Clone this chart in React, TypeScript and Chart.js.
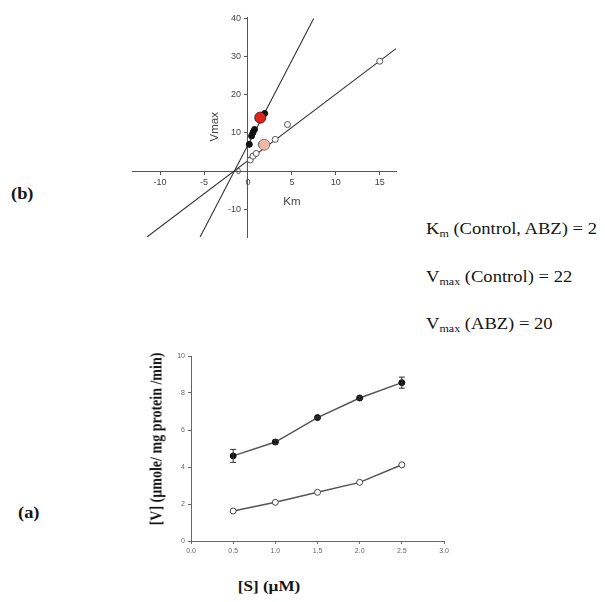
import React, { useEffect, useRef } from "react";
import { Chart, registerables } from "chart.js";

Chart.register(...registerables);

// ---------- Panel (b): Km vs Vmax plot ----------
const kmTicks = [-10, -5, 0, 5, 10, 15];
const vmaxTicks = [-10, 0, 10, 20, 30, 40];
const controlKm = [0.15, 0.41, 0.57, 0.75, 1.9];
const controlVmax = [7.0, 9.2, 10.1, 10.9, 15.1];
const controlMeanKm = [1.4];
const controlMeanVmax = [14.0];
const abzKm = [0.26, 0.57, 0.94, 1.5, 3.1, 4.5, 15];
const abzVmax = [2.9, 3.9, 4.6, 7.0, 8.3, 12.2, 28.8];
const abzMeanKm = [1.85];
const abzMeanVmax = [6.9];
const controlLineKm = [-5.45, 7.48];
const controlLineVmax = [-17.3, 40];
const abzLineKm = [-11.5, 16.85];
const abzLineVmax = [-17.3, 32.1];

// ---------- Panel (a): V vs [S] ----------
const substrate = [0.5, 1.0, 1.5, 2.0, 2.5];
const controlV = [4.6, 5.35, 6.67, 7.73, 8.56];
const controlErr = [0.35, 0.1, 0.05, 0.07, 0.3];
const abzV = [1.62, 2.09, 2.63, 3.17, 4.12];
const sTicks = [0, 0.5, 1.0, 1.5, 2.0, 2.5, 3.0];
const vTicks = [0, 2, 4, 6, 8, 10];

const pts = (xs: number[], ys: number[]) => xs.map((x, i) => ({ x, y: ys[i] }));

const SANS = '"Liberation Sans", Arial, sans-serif';
const SERIF = '"Liberation Serif", "Times New Roman", serif';

const zeroPad = (s: any) => {
  s.paddingLeft = 0;
  s.paddingRight = 0;
  s.paddingTop = 0;
  s.paddingBottom = 0;
};

// axis titles and y tick labels of the crossing-axes plot
const topTitles = {
  id: "topTitles",
  afterDraw(chart: any) {
    const { ctx, scales } = chart;
    const x = scales.x;
    const y = scales.y;
    const axisX = x.getPixelForValue(0);
    ctx.save();
    ctx.fillStyle = "#444";
    ctx.font = `9px ${SANS}`;
    ctx.textAlign = "right";
    ctx.textBaseline = "middle";
    vmaxTicks.forEach((v) => {
      ctx.fillText(String(v), axisX - 7, y.getPixelForValue(v));
    });
    ctx.font = `11.5px ${SANS}`;
    ctx.textAlign = "center";
    ctx.fillText("Km", x.getPixelForValue(5.0), y.getPixelForValue(-8.05));
    ctx.translate(x.getPixelForValue(-3.76), y.getPixelForValue(11.6));
    ctx.rotate(-Math.PI / 2);
    ctx.fillText("Vmax", 0, 0);
    ctx.restore();
  },
};

const errorBars = {
  id: "errorBars",
  afterDatasetsDraw(chart: any) {
    const { ctx, scales } = chart;
    const x = scales.x;
    const y = scales.y;
    ctx.save();
    ctx.strokeStyle = "#333";
    ctx.lineWidth = 1;
    substrate.forEach((s, i) => {
      const px = x.getPixelForValue(s);
      const t = y.getPixelForValue(controlV[i] + controlErr[i]);
      const b = y.getPixelForValue(controlV[i] - controlErr[i]);
      ctx.beginPath();
      ctx.moveTo(px, t);
      ctx.lineTo(px, b);
      ctx.moveTo(px - 3, t);
      ctx.lineTo(px + 3, t);
      ctx.moveTo(px - 3, b);
      ctx.lineTo(px + 3, b);
      ctx.stroke();
    });
    ctx.restore();
  },
};

function TopChart() {
  const ref = useRef<HTMLCanvasElement>(null);
  useEffect(() => {
    const chart = new Chart(ref.current as HTMLCanvasElement, {
      type: "scatter",
      data: {
        datasets: [
          {
            data: pts(controlMeanKm, controlMeanVmax),
            pointRadius: 5.5,
            backgroundColor: "#e02418",
            borderColor: "#5a1010",
            borderWidth: 1,
            order: 0,
          },
          {
            data: pts(abzMeanKm, abzMeanVmax),
            pointRadius: 5.5,
            backgroundColor: "#f2b9a8",
            borderColor: "#777",
            borderWidth: 1,
            order: 0,
          },
          {
            data: pts(controlKm, controlVmax),
            pointRadius: 3,
            backgroundColor: "#111",
            borderColor: "#111",
            borderWidth: 1,
            order: 1,
          },
          {
            data: pts(abzKm, abzVmax),
            pointRadius: 3,
            backgroundColor: "#fff",
            borderColor: "#555",
            borderWidth: 1,
            order: 1,
          },
          {
            data: pts(controlLineKm, controlLineVmax),
            showLine: true,
            pointRadius: 0,
            borderColor: "#333",
            borderWidth: 1.1,
            order: 5,
          },
          {
            data: pts(abzLineKm, abzLineVmax),
            showLine: true,
            pointRadius: 0,
            borderColor: "#333",
            borderWidth: 1.1,
            order: 5,
          },
        ],
      },
      options: {
        animation: false,
        responsive: false,
        devicePixelRatio: 1,
        layout: { padding: { left: 20, top: 17, right: 20, bottom: 13 }, autoPadding: false },
        plugins: { legend: { display: false }, tooltip: { enabled: false } },
        scales: {
          x: {
            type: "linear",
            min: -13.2,
            max: 16.85,
            position: { y: 0 } as any,
            afterBuildTicks: (s: any) => {
              s.ticks = kmTicks.map((v) => ({ value: v }));
            },
            afterFit: zeroPad,
            grid: { drawOnChartArea: false, drawTicks: true, tickLength: 3, color: "#555" },
            border: { display: true, color: "#555", width: 1 },
            ticks: {
              font: { family: SANS, size: 9 },
              color: "#444",
              padding: 3,
              maxRotation: 0,
              autoSkip: false,
            },
          },
          y: {
            type: "linear",
            min: -17.3,
            max: 40.4,
            position: { x: 0 } as any,
            afterBuildTicks: (s: any) => {
              s.ticks = vmaxTicks.map((v) => ({ value: v }));
            },
            afterFit: zeroPad,
            grid: { drawOnChartArea: false, drawTicks: true, tickLength: 3, color: "#555" },
            border: { display: true, color: "#555", width: 1 },
            ticks: { display: false },
          },
        },
      },
      plugins: [topTitles],
    });
    return () => chart.destroy();
  }, []);
  return (
    <canvas
      ref={ref}
      width={304}
      height={250}
      style={{ position: "absolute", left: 112, top: 0, width: 304, height: 250 }}
    />
  );
}

function BottomChart() {
  const ref = useRef<HTMLCanvasElement>(null);
  useEffect(() => {
    const chart = new Chart(ref.current as HTMLCanvasElement, {
      type: "line",
      data: {
        datasets: [
          {
            data: pts(substrate, controlV),
            borderColor: "#555",
            borderWidth: 1.5,
            pointRadius: 3,
            pointBackgroundColor: "#111",
            pointBorderColor: "#111",
            pointBorderWidth: 1,
          },
          {
            data: pts(substrate, abzV),
            borderColor: "#555",
            borderWidth: 1.5,
            pointRadius: 3,
            pointBackgroundColor: "#fff",
            pointBorderColor: "#444",
            pointBorderWidth: 1,
          },
        ],
      },
      options: {
        animation: false,
        responsive: false,
        devicePixelRatio: 1,
        layout: { padding: { left: 0, top: 16, right: 26, bottom: 0 }, autoPadding: false },
        plugins: { legend: { display: false }, tooltip: { enabled: false } },
        scales: {
          x: {
            type: "linear",
            min: 0,
            max: 3,
            position: "bottom",
            afterBuildTicks: (s: any) => {
              s.ticks = sTicks.map((v) => ({ value: v }));
            },
            afterFit: (s: any) => {
              s.height = 30;
            },
            grid: { drawOnChartArea: false, drawTicks: true, tickLength: 3, color: "#666" },
            border: { display: true, color: "#666", width: 1 },
            ticks: {
              font: { family: SANS, size: 7 },
              color: "#666",
              padding: 3,
              maxRotation: 0,
              autoSkip: false,
              callback: (v: any) => Number(v).toFixed(1),
            },
          },
          y: {
            type: "linear",
            min: 0,
            max: 10,
            position: "left",
            afterBuildTicks: (s: any) => {
              s.ticks = vTicks.map((v) => ({ value: v }));
            },
            afterFit: (s: any) => {
              s.width = 51;
            },
            grid: { drawOnChartArea: false, drawTicks: true, tickLength: 3, color: "#666" },
            border: { display: true, color: "#666", width: 1 },
            ticks: {
              font: { family: SANS, size: 7 },
              color: "#666",
              padding: 3,
              autoSkip: false,
            },
          },
        },
      },
      plugins: [errorBars],
    });
    return () => chart.destroy();
  }, []);
  return (
    <canvas
      ref={ref}
      width={330}
      height={231}
      style={{ position: "absolute", left: 140, top: 340, width: 330, height: 231 }}
    />
  );
}

const textBase: React.CSSProperties = {
  position: "absolute",
  fontFamily: SERIF,
  lineHeight: "20px",
  whiteSpace: "nowrap",
  color: "#151515",
};

export default function App() {
  return (
    <div
      style={{
        position: "absolute",
        left: 0,
        top: 0,
        width: 605,
        height: 602,
        background: "#fff",
        overflow: "hidden",
      }}
    >
      <TopChart />
      <BottomChart />

      <div style={{ ...textBase, left: 11, top: 184, fontSize: 16, fontWeight: "bold", transform: "scaleX(1.15)", transformOrigin: "left center" }}>
        (b)
      </div>
      <div style={{ ...textBase, left: 18, top: 503, fontSize: 16, fontWeight: "bold", transform: "scaleX(1.15)", transformOrigin: "left center" }}>
        (a)
      </div>

      <div style={{ ...textBase, left: 426, top: 219, fontSize: 16, transform: "scaleX(1.16)", transformOrigin: "left center" }}>
        K<sub style={{ fontSize: "0.65em", verticalAlign: "-0.25em" }}>m</sub> (Control, ABZ) = 2
      </div>
      <div style={{ ...textBase, left: 426, top: 267, fontSize: 16, transform: "scaleX(1.16)", transformOrigin: "left center" }}>
        V<sub style={{ fontSize: "0.65em", verticalAlign: "-0.25em" }}>max</sub> (Control) = 22
      </div>
      <div style={{ ...textBase, left: 426, top: 314, fontSize: 16, transform: "scaleX(1.16)", transformOrigin: "left center" }}>
        V<sub style={{ fontSize: "0.65em", verticalAlign: "-0.25em" }}>max</sub> (ABZ) = 20
      </div>

      <div
        style={{
          ...textBase,
          left: 157 - 120,
          top: 439 - 10,
          width: 240,
          textAlign: "center",
          fontSize: 14,
          fontWeight: "bold",
          transform: "rotate(-90deg) scaleY(1.15)",
          transformOrigin: "center center",
        }}
      >
        [V] (µmole/ mg protein /min)
      </div>
      <div
        style={{
          ...textBase,
          left: 269 - 100,
          top: 576,
          width: 200,
          textAlign: "center",
          fontSize: 15,
          fontWeight: "bold",
          transform: "scaleX(1.14)",
          transformOrigin: "center center",
        }}
      >
        [S] (µM)
      </div>
    </div>
  );
}
